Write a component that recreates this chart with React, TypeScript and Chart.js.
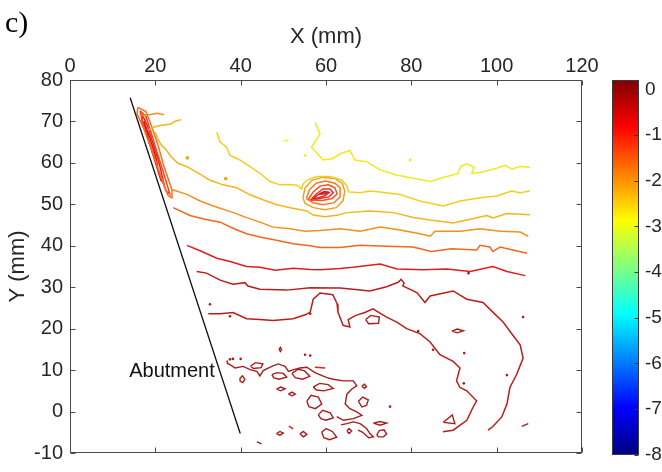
import React, { useEffect, useRef } from 'react';
import { Chart, registerables } from 'chart.js';

Chart.register(...registerables);

type Pt = [number, number];

const FONT = '"Liberation Sans", Arial, Helvetica, sans-serif';
const TXT = '#262626';

// axes
const X_MIN = 0, X_MAX = 120, X_STEP = 20;
const Y_MIN = -10, Y_MAX = 80, Y_STEP = 10;
// colour bar
const CMIN = -8, CMAX = 0.21;
const CB_TICKS = [0, -1, -2, -3, -4, -5, -6, -7, -8];

// abutment
const ABUTMENT: Pt[] = [[14.1, 75.7], [39.9, -5.3]];
const ABUT_LABEL = { text: 'Abutment', x: 23.9, y: 9.6 };

// main contour lines (mm)
const L1: Pt[] = [[57.4,69.8],[58.6,67.0],[56.6,63.8],[59.3,60.7],[61.5,61.0],[63.3,62.2],[65.6,63.0],[66.8,60.7],[69.5,60.3],[72.7,58.3],[76.5,57.1],[80.4,56.3],[84.4,55.5],[88.3,56.7],[90.9,57.4],[91.6,59.2],[93.0,59.8],[94.7,59.0],[94.2,57.5],[96.1,57.7],[100.0,58.7],[102.0,59.4],[103.6,58.5],[105.5,59.2],[107.8,58.9]];
const L2: Pt[] = [[34.4,67.4],[35.2,65.0],[36.7,63.8],[37.5,61.8],[39.8,60.7],[42.2,59.1],[44.5,57.5],[46.9,55.5],[49.2,54.7],[51.6,54.8],[53.2,54.6],[54.3,53.7],[54.6,54.9],[55.5,55.8],[57.8,56.7],[60.9,56.7],[63.7,55.9],[64.9,54.4],[65.3,53.0],[68.0,52.8],[70.3,53.2],[72.7,53.0],[77.3,52.4],[82.0,50.8],[87.5,49.6],[91.4,50.8],[96.1,51.6],[100.0,52.0],[103.5,53.2],[105.5,52.8],[107.8,53.2]];
const L3: Pt[] = [[19.9,67.5],[20.6,65.8],[21.3,64.4],[22.5,63.2],[23.7,61.5],[25.3,59.9],[27.4,59.1],[30.5,57.3],[32.8,55.8],[35.9,54.7],[39.1,54.0],[42.2,52.3],[45.2,51.1],[48.5,49.9],[51.6,49.2],[55.5,48.4],[57.0,47.4],[59.8,47.0],[62.8,47.4],[64.9,48.0],[70.3,48.4],[75.8,48.0],[80.5,46.8],[84.4,46.2],[89.8,45.5],[93.0,46.2],[97.7,47.3],[99.2,46.7],[102.4,47.8],[107.8,47.5]];
const L4: Pt[] = [[23.8,53.6],[27.4,52.4],[30.5,50.8],[33.6,49.6],[38.3,48.0],[41.4,46.8],[44.5,45.7],[47.6,44.5],[51.6,44.1],[55.1,43.5],[58.6,43.7],[63.3,44.1],[68.0,43.5],[72.7,44.5],[77.3,43.8],[82.0,42.9],[84.4,42.3],[85.6,43.5],[91.4,43.5],[96.1,44.1],[100.8,43.5],[105.5,43.3],[107.4,42.3]];
const L5: Pt[] = [[24.2,49.2],[28.1,47.3],[31.6,46.4],[35.2,45.7],[38.7,44.0],[41.4,42.9],[44.5,42.1],[48.1,41.4],[52.3,40.5],[56.3,40.0],[58.6,39.6],[63.3,39.6],[68.0,40.1],[74.2,39.9],[80.4,39.7],[84.7,38.6],[89.4,39.3],[95.3,39.0],[96.1,40.1],[98.4,39.7],[99.1,38.6],[100.8,39.7],[103.8,39.0],[107.1,38.2]];
const L6: Pt[] = [[27.4,40.1],[30.5,38.8],[34.4,37.0],[37.5,36.2],[41.4,35.0],[44.5,34.8],[48.1,34.1],[52.3,34.6],[56.3,34.3],[58.6,34.2],[63.3,34.5],[66.3,34.8],[72.7,35.6],[76.6,34.4],[82.8,34.2],[88.3,34.4],[93.8,33.8],[99.1,35.0],[102.4,33.8],[106.7,32.8]];
const L7: Pt[] = [[29.7,33.8],[32.0,33.4],[35.2,31.7],[38.2,30.7],[41.0,31.1],[41.7,30.3],[44.5,29.5],[50.8,29.3],[56.3,29.9],[63.3,29.8],[66.3,29.5],[70.3,29.1],[74.2,30.1],[76.9,31.2],[77.6,31.9],[78.3,31.0],[78.0,30.3],[81.3,28.7],[83.2,26.3],[84.4,27.9],[89.8,29.1],[93.0,27.1],[96.8,26.3],[99.1,24.0],[101.5,21.6],[103.8,18.4],[105.5,16.1],[106.2,12.9],[104.7,9.0],[103.1,5.8],[102.4,1.8],[101.2,-1.3],[99.1,-3.6],[98.0,-4.5]];
const L8: Pt[] = [[32.4,23.6],[35.2,23.6],[38.2,23.9],[41.4,22.4],[44.5,22.2],[47.6,22.0],[52.3,22.4],[55.3,23.4],[56.3,24.0],[57.0,27.1],[58.6,28.6],[61.6,28.2],[62.6,26.0],[62.8,24.0],[64.0,20.8],[65.6,20.4],[65.2,22.2],[67.0,23.2],[69.1,23.9],[71.0,24.8],[74.2,22.8],[76.6,21.6],[78.9,20.0],[82.0,18.8],[84.4,16.8],[86.7,13.7],[89.8,12.1],[91.4,10.5],[90.6,7.4],[91.4,5.8],[93.0,5.0],[95.3,2.6],[94.5,1.1],[93.0,-2.1],[89.8,-4.5],[87.4,-4.9]];

// short lines by the abutment
const S1: Pt[] = [[16.8,71.4],[18.8,71.7],[20.4,72.0],[22.0,71.6]];
const S2: Pt[] = [[18.3,67.9],[19.5,68.6],[21.1,69.0],[23.4,69.3],[24.8,70.1],[26.0,70.4]];

// streak along the abutment (closed loops)
const SL1: Pt[] = [[15.9,73.4],[17.8,72.4],[19.2,68.6],[20.6,64.4],[22.0,59.2],[23.9,53.5],[23.9,51.6],[23.0,52.1],[21.1,57.3],[19.2,63.0],[17.3,68.2],[15.7,71.9],[15.9,73.4]];
const SL2: Pt[] = [[16.4,72.6],[17.8,71.2],[19.2,66.7],[20.6,62.0],[22.3,56.3],[23.4,52.5],[22.5,53.2],[20.6,58.7],[18.8,64.2],[17.1,69.4],[16.4,72.6]];
const SL3: Pt[] = [[16.9,71.7],[18.1,69.1],[19.5,64.6],[20.9,59.9],[22.0,55.1],[21.3,55.8],[19.7,61.1],[18.3,65.8],[17.1,69.6],[16.9,71.7]];
const SL4: Pt[] = [[17.3,70.1],[18.5,66.7],[19.9,62.2],[20.6,59.2],[19.7,61.5],[18.5,65.3],[17.6,68.6],[17.3,70.1]];

// bubble near (60, 53)
const B1: Pt[] = [[54.6,51.6],[55.1,54.0],[56.7,55.8],[59.1,56.5],[61.9,56.3],[63.8,55.1],[64.4,53.2],[64.0,50.9],[62.4,49.2],[59.8,48.7],[57.0,49.2],[55.1,50.2],[54.6,51.6]];
const B2: Pt[] = [[55.4,51.4],[56.1,53.5],[57.7,55.1],[59.8,55.6],[62.1,55.1],[63.3,54.0],[63.3,51.8],[61.9,50.4],[59.3,49.9],[57.0,50.4],[55.4,51.4]];
const B3: Pt[] = [[55.8,51.1],[57.0,53.0],[58.6,54.4],[60.5,54.7],[62.1,54.0],[62.6,52.5],[61.4,51.4],[59.1,50.9],[55.8,51.1]];
const B4: Pt[] = [[56.3,50.9],[57.7,52.5],[59.3,53.7],[60.9,53.7],[61.7,52.8],[60.7,51.8],[58.6,51.4],[56.3,50.9]];
const B5: Pt[] = [[56.7,51.1],[58.1,52.3],[59.8,53.0],[60.7,52.8],[59.8,52.1],[56.7,51.1]];
const B6: Pt[] = [[58.4,52.5],[59.6,53.1],[60.5,52.9],[59.6,52.5],[58.4,52.5]];

// lower clusters (dark red)
const SQ1: Pt[] = [[36.8,12.3],[36.9,11.6],[37.5,11.3],[38.7,10.5],[40.6,10.9],[42.2,10.1],[43.8,9.7],[44.5,8.6],[45.3,9.9],[47.3,10.9],[48.8,11.5],[50.4,10.9],[51.2,9.7],[52.4,10.1],[53.9,10.5],[55.5,10.7],[57.4,9.4],[60.2,8.2],[61.7,7.8],[64.1,7.4],[66.4,7.4],[67.2,6.2],[66.0,5.4],[64.9,4.2],[64.5,1.8],[65.6,0.7],[67.2,-0.1],[68.4,-0.9],[66.4,-1.7],[64.1,-2.1],[62.5,-1.2]];
const SQ3: Pt[] = [[63.5,-3.2],[64.9,-2.9],[66.4,-2.5],[68.0,-2.9],[69.5,-4.1],[70.3,-5.3],[71.1,-6.1],[70.0,-6.3],[68.6,-5.0],[67.5,-4.5]];
const LP_A: Pt[] = [[42.3,11.0],[43.5,11.8],[45.2,11.5],[44.8,10.6],[43.0,10.4],[42.3,11.0]];
const LP_B: Pt[] = [[47.3,8.9],[48.5,9.4],[50.0,9.2],[50.8,8.3],[49.0,7.8],[47.8,8.1],[47.3,8.9]];
const LP_C: Pt[] = [[52.0,9.2],[53.5,10.2],[55.0,9.8],[56.2,8.5],[54.5,7.8],[52.8,8.2],[52.0,9.2]];
const LP_D: Pt[] = [[48.4,5.4],[49.4,5.9],[50.4,5.5],[49.4,5.0],[48.4,5.4]];
const LP_E: Pt[] = [[51.2,4.2],[52.0,4.7],[52.8,4.2],[52.0,3.8],[51.2,4.2]];
const LP_F: Pt[] = [[57.0,5.9],[58.5,6.8],[60.5,6.5],[61.7,5.6],[59.5,5.0],[57.8,5.2],[57.0,5.9]];
const LP_G: Pt[] = [[55.5,2.5],[56.5,3.9],[58.2,3.5],[59.0,1.8],[57.5,0.7],[56.0,1.2],[55.5,2.5]];
const LP_H: Pt[] = [[58.2,-0.8],[59.2,0.3],[61.0,-0.3],[61.7,-1.5],[60.0,-2.1],[58.8,-1.7],[58.2,-0.8]];
const LP_I: Pt[] = [[59.0,-5.0],[60.0,-4.1],[61.5,-4.8],[62.5,-6.2],[60.8,-6.8],[59.5,-6.3],[59.0,-5.0]];
const LP_J: Pt[] = [[48.4,-5.3],[49.2,-4.8],[50.0,-5.2],[49.2,-5.7],[48.4,-5.3]];
const LP_K: Pt[] = [[53.9,-5.4],[54.7,-4.8],[55.5,-5.5],[54.7,-6.1],[53.9,-5.4]];
const LP_L: Pt[] = [[39.8,8.0],[40.4,8.6],[41.0,7.8],[40.5,7.0],[39.9,7.3],[39.8,8.0]];
const LP_M: Pt[] = [[49.0,15.0],[49.3,15.5],[49.6,15.0],[49.3,14.5],[49.0,15.0]];
const LP_N: Pt[] = [[68.4,6.1],[69.0,6.6],[69.5,6.0],[69.0,5.6],[68.4,6.1]];
const LP_O: Pt[] = [[67.6,2.5],[68.6,3.5],[69.9,2.8],[69.5,1.5],[68.4,1.1],[67.6,2.5]];
const LP_P: Pt[] = [[71.1,-2.8],[72.7,-2.4],[74.2,-2.8],[72.7,-3.3],[71.1,-2.8]];
const LP_Q: Pt[] = [[71.9,-5.6],[72.5,-4.6],[73.6,-4.4],[74.2,-5.4],[73.5,-6.1],[72.3,-6.1],[71.9,-5.6]];
const LP_R: Pt[] = [[64.9,-4.7],[65.4,-4.1],[66.0,-4.7],[65.4,-5.3],[64.9,-4.7]];
const LP_S: Pt[] = [[89.5,19.4],[90.8,19.9],[92.2,19.5],[90.8,19.0],[89.5,19.4]];
const LP_T: Pt[] = [[87.5,-2.6],[89.6,-0.8],[90.2,-2.9],[87.5,-2.6]];
const LP_U: Pt[] = [[69.3,22.2],[70.5,23.2],[72.5,22.8],[72.3,21.3],[70.0,21.2],[69.3,22.2]];
const SEG_1: Pt[] = [[105.9,-3.6],[107.4,-2.9]];
const SEG_2: Pt[] = [[43.8,-7.3],[44.9,-7.8]];
const RED_DASH_1: Pt[] = [[57.4,10.7],[59.8,10.5]];
const RED_DASH_2: Pt[] = [[51.3,-3.5],[52.3,-4.2]];
const YELLOW_DASH: Pt[] = [[50.0,65.4],[51.2,65.4]];

// isolated specks
const DOTS_YELLOW: Pt[] = [[55.1,61.8],[79.7,60.7]];
const DOTS_ORANGE: Pt[] = [[27.5,61.2],[36.5,56.2]];
const DOTS_DARK: Pt[] = [[93.4,33.4],[106.2,22.8],[81.6,19.4],[85.1,14.9],[92.4,14.1],[92.3,6.8],[102.4,8.8],[75.0,1.2],[32.8,25.9],[37.5,23.0],[56.3,23.6],[55.1,13.7],[56.3,13.5],[37.5,12.6],[38.2,12.7],[40.0,12.7]];

// levels
const CONTOURS: { pts: Pt[]; level: number }[] = [
  { pts: L1, level: -2.75 }, { pts: L2, level: -2.5 }, { pts: L3, level: -2.25 },
  { pts: L4, level: -1.9 }, { pts: L5, level: -1.5 }, { pts: L6, level: -0.6 },
  { pts: L7, level: -0.25 }, { pts: L8, level: -0.25 },
  { pts: S1, level: -1.9 }, { pts: S2, level: -2.25 },
  { pts: SL1, level: -1.6 }, { pts: SL2, level: -1.2 }, { pts: SL3, level: -0.8 }, { pts: SL4, level: -0.4 },
  { pts: B1, level: -2.05 }, { pts: B2, level: -1.7 }, { pts: B3, level: -1.3 },
  { pts: B4, level: -0.95 }, { pts: B5, level: -0.6 }, { pts: B6, level: -0.25 },
  { pts: YELLOW_DASH, level: -2.9 },
  { pts: RED_DASH_1, level: -0.7 }, { pts: RED_DASH_2, level: -0.7 },
];
const CLUSTERS: Pt[][] = [SQ1, SQ3, LP_A, LP_B, LP_C, LP_D, LP_E, LP_F, LP_G, LP_H, LP_I, LP_J, LP_K, LP_L, LP_M, LP_N, LP_O, LP_P, LP_Q, LP_R, LP_S, LP_T, LP_U, SEG_1, SEG_2];
const CLUSTER_LEVEL = -0.05;

function jetRGB(v: number): [number, number, number] {
  const t = Math.min(1, Math.max(0, (v - CMIN) / (CMAX - CMIN)));
  const c = (x: number) => 255 * Math.min(1, Math.max(0, 1.5 - Math.abs(x)));
  return [c(4 * t - 3), c(4 * t - 2), c(4 * t - 1)];
}
function jet(v: number): string {
  const [r, g, b] = jetRGB(v).map(Math.round);
  return `rgb(${r},${g},${b})`;
}
// slightly softened jet colour for the thin contour lines
function lineColor(v: number): string {
  const [r, g, b] = jetRGB(v).map((c) => Math.round(c * 0.84 + 30));
  return `rgb(${r},${g},${b})`;
}

const toXY = (pts: Pt[]) => pts.map(([x, y]) => ({ x, y }));
const lineDs = (pts: Pt[], color: string, width = 1.5) => ({
  data: toXY(pts), showLine: true, borderColor: color, backgroundColor: color,
  borderWidth: width, pointRadius: 0, fill: false, tension: 0,
});
const dotDs = (pts: Pt[], color: string, r = 1.4) => ({
  data: toXY(pts), showLine: false, pointRadius: r, pointBackgroundColor: color,
  pointBorderColor: color, pointBorderWidth: 0,
});

const framePlugin = {
  id: 'frame',
  afterDatasetsDraw(chart: any) {
    const { ctx, scales } = chart;
    ctx.save();
    ctx.font = `20px ${FONT}`;
    ctx.fillStyle = '#111';
    ctx.textAlign = 'center';
    ctx.textBaseline = 'middle';
    ctx.fillText(ABUT_LABEL.text, scales.x.getPixelForValue(ABUT_LABEL.x), scales.y.getPixelForValue(ABUT_LABEL.y));
    ctx.restore();
  },
  afterDraw(chart: any) {
    const { ctx, chartArea: a, scales } = chart;
    const l = Math.round(a.left) + 0.5, r = Math.round(a.right) - 0.5;
    const t = Math.round(a.top) + 0.5, b = Math.round(a.bottom) - 0.5;
    ctx.save();
    ctx.strokeStyle = '#4a4a4a';
    ctx.lineWidth = 1;
    ctx.strokeRect(l, t, r - l, b - t);
    ctx.beginPath();
    scales.x.ticks.forEach((tk: any) => {
      const p = Math.round(scales.x.getPixelForValue(tk.value)) + 0.5;
      ctx.moveTo(p, t); ctx.lineTo(p, t + 5);
      ctx.moveTo(p, b); ctx.lineTo(p, b - 5);
    });
    scales.y.ticks.forEach((tk: any) => {
      const p = Math.round(scales.y.getPixelForValue(tk.value)) + 0.5;
      ctx.moveTo(l, p); ctx.lineTo(l + 5, p);
      ctx.moveTo(r, p); ctx.lineTo(r - 5, p);
    });
    ctx.stroke();
    ctx.restore();
  },
};

const cbPlugin = {
  id: 'cbframe',
  afterDraw(chart: any) {
    const { ctx, chartArea: a, scales } = chart;
    const l = Math.round(a.left) + 0.5, r = Math.round(a.right) - 0.5;
    const t = Math.round(a.top) + 0.5, b = Math.round(a.bottom) - 0.5;
    ctx.save();
    ctx.strokeStyle = '#3a3a3a';
    ctx.lineWidth = 1;
    ctx.strokeRect(l, t, r - l, b - t);
    ctx.beginPath();
    scales.y.ticks.forEach((tk: any) => {
      const p = Math.round(scales.y.getPixelForValue(tk.value)) + 0.5;
      ctx.moveTo(r, p); ctx.lineTo(r - 4, p);
    });
    ctx.stroke();
    ctx.restore();
  },
};

export default function App() {
  const mainRef = useRef<HTMLCanvasElement>(null);
  const cbRef = useRef<HTMLCanvasElement>(null);

  useEffect(() => {
    document.body.style.margin = '0';
    const datasets: any[] = [];
    datasets.push(lineDs(ABUTMENT, '#111111', 1.3));
    CONTOURS.forEach((c) => datasets.push(lineDs(c.pts, lineColor(c.level))));
    CLUSTERS.forEach((p) => datasets.push(lineDs(p, lineColor(CLUSTER_LEVEL), 1.4)));
    datasets.push(dotDs(DOTS_YELLOW, lineColor(-2.8)));
    datasets.push(dotDs(DOTS_ORANGE, lineColor(-2.1), 1.8));
    datasets.push(dotDs(DOTS_DARK, lineColor(CLUSTER_LEVEL), 1.3));

    const main = new Chart(mainRef.current!, {
      type: 'scatter',
      data: { datasets },
      options: {
        animation: false,
        responsive: false,
        events: [],
        layout: { padding: { left: 0, top: 0, right: 80, bottom: 12 } },
        plugins: { legend: { display: false }, tooltip: { enabled: false } },
        scales: {
          x: {
            type: 'linear', position: 'top', min: X_MIN, max: X_MAX,
            ticks: { stepSize: X_STEP, padding: 2, maxRotation: 0, font: { family: FONT, size: 20 }, color: TXT },
            grid: { display: false, drawTicks: false }, border: { display: false },
            title: { display: true, text: 'X (mm)', color: TXT, font: { family: FONT, size: 22 }, padding: { top: 24, bottom: 0 } },
            afterFit: (s: any) => { s.height = 80; },
          },
          y: {
            type: 'linear', position: 'left', min: Y_MIN, max: Y_MAX,
            ticks: { stepSize: Y_STEP, padding: 7, font: { family: FONT, size: 20 }, color: TXT },
            grid: { display: false, drawTicks: false }, border: { display: false },
            title: { display: true, text: 'Y (mm)', color: TXT, font: { family: FONT, size: 22 }, padding: { top: 5, bottom: 0 } },
            afterFit: (s: any) => { s.width = 70; },
          },
        },
      } as any,
      plugins: [framePlugin],
    });

    const cb = new Chart(cbRef.current!, {
      type: 'bar',
      data: {
        labels: [''],
        datasets: [{
          data: [[CMIN, CMAX]] as any,
          borderWidth: 0,
          barPercentage: 1,
          categoryPercentage: 1,
          backgroundColor: (ctx: any) => {
            const ch = ctx.chart;
            const ys = ch.scales && ch.scales.y;
            if (!ch.chartArea || !ys) return '#800000';
            const y0 = ys.getPixelForValue(CMIN), y1 = ys.getPixelForValue(CMAX);
            const g = ch.ctx.createLinearGradient(0, y0, 0, y1);
            for (let i = 0; i <= 64; i++) {
              const f = i / 64;
              g.addColorStop(f, jet(CMIN + f * (CMAX - CMIN)));
            }
            return g;
          },
        }],
      },
      options: {
        animation: false,
        responsive: false,
        events: [],
        layout: { padding: { left: 12, top: 80, right: 0, bottom: 12 } },
        plugins: { legend: { display: false }, tooltip: { enabled: false } },
        scales: {
          x: { display: false },
          y: {
            position: 'right', min: CMIN, max: CMAX,
            afterBuildTicks: (s: any) => { s.ticks = CB_TICKS.map((v) => ({ value: v })); },
            afterFit: (s: any) => { s.width = 23; },
            ticks: { padding: 6, font: { family: FONT, size: 19 }, color: TXT },
            grid: { display: false, drawTicks: false }, border: { display: false },
          },
        },
      } as any,
      plugins: [cbPlugin],
    });

    return () => { main.destroy(); cb.destroy(); };
  }, []);

  return (
    <div style={{ position: 'fixed', left: 0, top: 0, width: 662, height: 472, background: '#fff' }}>
      <canvas ref={mainRef} width={662} height={472} style={{ position: 'absolute', left: 0, top: 0 }} />
      <canvas ref={cbRef} width={62} height={472} style={{ position: 'absolute', left: 600, top: 0 }} />
      <div style={{ position: 'absolute', left: 5, top: 7, font: '30px "Liberation Serif", "Times New Roman", serif', lineHeight: 1, color: '#000' }}>c)</div>
    </div>
  );
}
